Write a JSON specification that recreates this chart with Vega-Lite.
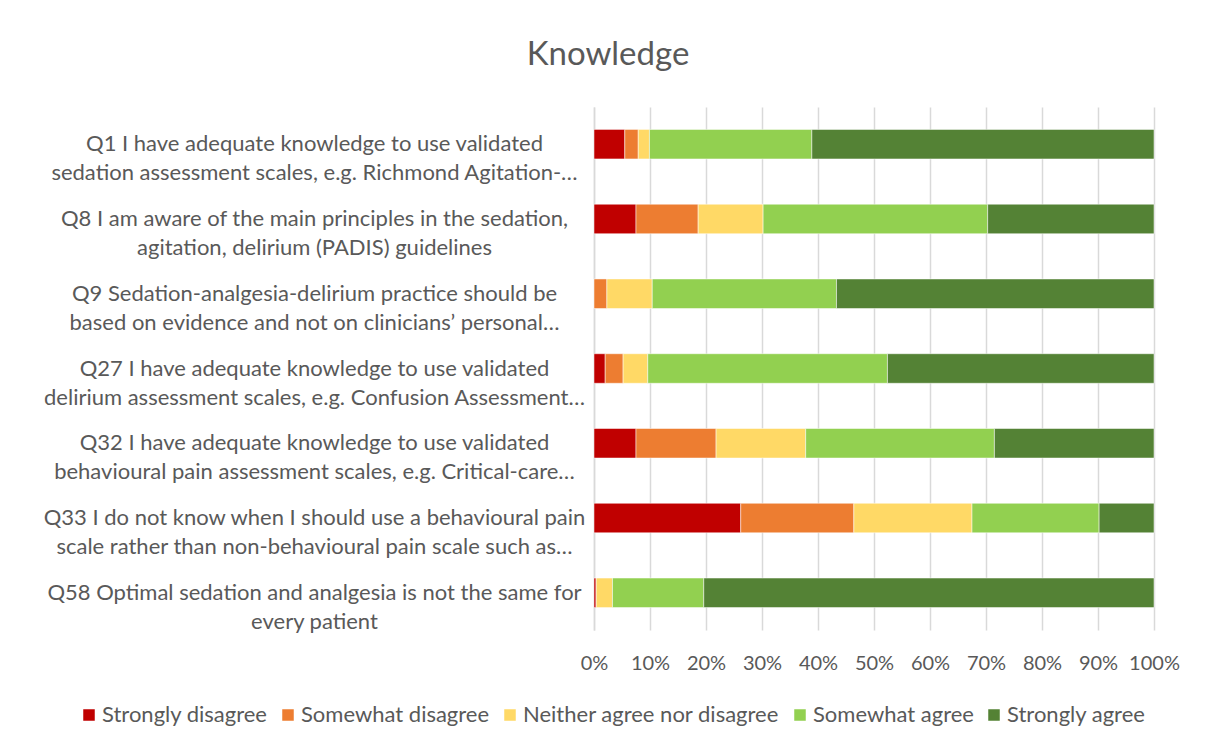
{
  "$schema": "https://vega.github.io/schema/vega-lite/v6.json",
  "width": 560,
  "height": 523,
  "autosize": "none",
  "padding": {"left": 594, "top": 107, "right": 51, "bottom": 117},
  "background": "white",
  "title": {
    "text": "Knowledge",
    "font": "Lato",
    "fontSize": 33,
    "fontWeight": "normal",
    "color": "#595959",
    "anchor": "middle",
    "dx": -266,
    "offset": 9,
    "baseline": "alphabetic"
  },
  "data": {
    "values": [
      {"q": "Q1 I have adequate knowledge to use validated|sedation assessment scales, e.g. Richmond Agitation-…", "resp": "Strongly disagree", "rank": 1, "pct": 5.5},
      {"q": "Q1 I have adequate knowledge to use validated|sedation assessment scales, e.g. Richmond Agitation-…", "resp": "Somewhat disagree", "rank": 2, "pct": 2.4},
      {"q": "Q1 I have adequate knowledge to use validated|sedation assessment scales, e.g. Richmond Agitation-…", "resp": "Neither agree nor disagree", "rank": 3, "pct": 2.0},
      {"q": "Q1 I have adequate knowledge to use validated|sedation assessment scales, e.g. Richmond Agitation-…", "resp": "Somewhat agree", "rank": 4, "pct": 29.0},
      {"q": "Q1 I have adequate knowledge to use validated|sedation assessment scales, e.g. Richmond Agitation-…", "resp": "Strongly agree", "rank": 5, "pct": 61.1},
      {"q": "Q8 I am aware of the main principles in the sedation,|agitation, delirium (PADIS) guidelines", "resp": "Strongly disagree", "rank": 1, "pct": 7.5},
      {"q": "Q8 I am aware of the main principles in the sedation,|agitation, delirium (PADIS) guidelines", "resp": "Somewhat disagree", "rank": 2, "pct": 11.1},
      {"q": "Q8 I am aware of the main principles in the sedation,|agitation, delirium (PADIS) guidelines", "resp": "Neither agree nor disagree", "rank": 3, "pct": 11.6},
      {"q": "Q8 I am aware of the main principles in the sedation,|agitation, delirium (PADIS) guidelines", "resp": "Somewhat agree", "rank": 4, "pct": 40.1},
      {"q": "Q8 I am aware of the main principles in the sedation,|agitation, delirium (PADIS) guidelines", "resp": "Strongly agree", "rank": 5, "pct": 29.7},
      {"q": "Q9 Sedation-analgesia-delirium practice should be|based on evidence and not on clinicians’ personal…", "resp": "Strongly disagree", "rank": 1, "pct": 0},
      {"q": "Q9 Sedation-analgesia-delirium practice should be|based on evidence and not on clinicians’ personal…", "resp": "Somewhat disagree", "rank": 2, "pct": 2.3},
      {"q": "Q9 Sedation-analgesia-delirium practice should be|based on evidence and not on clinicians’ personal…", "resp": "Neither agree nor disagree", "rank": 3, "pct": 8.1},
      {"q": "Q9 Sedation-analgesia-delirium practice should be|based on evidence and not on clinicians’ personal…", "resp": "Somewhat agree", "rank": 4, "pct": 32.9},
      {"q": "Q9 Sedation-analgesia-delirium practice should be|based on evidence and not on clinicians’ personal…", "resp": "Strongly agree", "rank": 5, "pct": 56.7},
      {"q": "Q27 I have adequate knowledge to use validated|delirium assessment scales, e.g. Confusion Assessment…", "resp": "Strongly disagree", "rank": 1, "pct": 2.0},
      {"q": "Q27 I have adequate knowledge to use validated|delirium assessment scales, e.g. Confusion Assessment…", "resp": "Somewhat disagree", "rank": 2, "pct": 3.2},
      {"q": "Q27 I have adequate knowledge to use validated|delirium assessment scales, e.g. Confusion Assessment…", "resp": "Neither agree nor disagree", "rank": 3, "pct": 4.4},
      {"q": "Q27 I have adequate knowledge to use validated|delirium assessment scales, e.g. Confusion Assessment…", "resp": "Somewhat agree", "rank": 4, "pct": 42.8},
      {"q": "Q27 I have adequate knowledge to use validated|delirium assessment scales, e.g. Confusion Assessment…", "resp": "Strongly agree", "rank": 5, "pct": 47.6},
      {"q": "Q32 I have adequate knowledge to use validated|behavioural pain assessment scales, e.g. Critical-care…", "resp": "Strongly disagree", "rank": 1, "pct": 7.5},
      {"q": "Q32 I have adequate knowledge to use validated|behavioural pain assessment scales, e.g. Critical-care…", "resp": "Somewhat disagree", "rank": 2, "pct": 14.3},
      {"q": "Q32 I have adequate knowledge to use validated|behavioural pain assessment scales, e.g. Critical-care…", "resp": "Neither agree nor disagree", "rank": 3, "pct": 16.0},
      {"q": "Q32 I have adequate knowledge to use validated|behavioural pain assessment scales, e.g. Critical-care…", "resp": "Somewhat agree", "rank": 4, "pct": 33.7},
      {"q": "Q32 I have adequate knowledge to use validated|behavioural pain assessment scales, e.g. Critical-care…", "resp": "Strongly agree", "rank": 5, "pct": 28.5},
      {"q": "Q33 I do not know when I should use a behavioural pain|scale rather than non-behavioural pain scale such as…", "resp": "Strongly disagree", "rank": 1, "pct": 26.2},
      {"q": "Q33 I do not know when I should use a behavioural pain|scale rather than non-behavioural pain scale such as…", "resp": "Somewhat disagree", "rank": 2, "pct": 20.2},
      {"q": "Q33 I do not know when I should use a behavioural pain|scale rather than non-behavioural pain scale such as…", "resp": "Neither agree nor disagree", "rank": 3, "pct": 21.1},
      {"q": "Q33 I do not know when I should use a behavioural pain|scale rather than non-behavioural pain scale such as…", "resp": "Somewhat agree", "rank": 4, "pct": 22.7},
      {"q": "Q33 I do not know when I should use a behavioural pain|scale rather than non-behavioural pain scale such as…", "resp": "Strongly agree", "rank": 5, "pct": 9.8},
      {"q": "Q58 Optimal sedation and analgesia is not the same for|every patient", "resp": "Strongly disagree", "rank": 1, "pct": 0.4},
      {"q": "Q58 Optimal sedation and analgesia is not the same for|every patient", "resp": "Somewhat disagree", "rank": 2, "pct": 0},
      {"q": "Q58 Optimal sedation and analgesia is not the same for|every patient", "resp": "Neither agree nor disagree", "rank": 3, "pct": 2.9},
      {"q": "Q58 Optimal sedation and analgesia is not the same for|every patient", "resp": "Somewhat agree", "rank": 4, "pct": 16.3},
      {"q": "Q58 Optimal sedation and analgesia is not the same for|every patient", "resp": "Strongly agree", "rank": 5, "pct": 80.4}
    ]
  },
  "mark": {"type": "bar"},
  "encoding": {
    "y": {
      "field": "q",
      "type": "nominal",
      "sort": null,
      "scale": {"paddingInner": 0.605, "paddingOuter": 0.3},
      "axis": {
        "title": null,
        "labelExpr": "split(datum.label, '|')",
        "labelAlign": "center",
        "labelBaseline": "middle",
        "labelPadding": 280,
        "labelLimit": 0,
        "labelFont": "Lato",
        "labelFontSize": 22,
        "labelColor": "#595959",
        "labelLineHeight": 29,
        "ticks": false,
        "tickSize": 0,
        "domain": true,
        "domainColor": "#d9d9d9",
        "domainWidth": 1.5,
        "grid": false
      }
    },
    "x": {
      "field": "pct",
      "type": "quantitative",
      "stack": "normalize",
      "scale": {"domain": [0, 1]},
      "axis": {
        "title": null,
        "format": ".0%",
        "values": [0, 0.1, 0.2, 0.3, 0.4, 0.5, 0.6, 0.7, 0.8, 0.9, 1],
        "labelOverlap": false,
        "labelFlush": false,
        "labelFont": "Lato",
        "labelFontSize": 20,
        "labelColor": "#595959",
        "labelPadding": 33,
        "labelBaseline": "middle",
        "ticks": false,
        "tickSize": 0,
        "domain": false,
        "grid": true,
        "gridColor": "#d9d9d9",
        "gridWidth": 1.5
      }
    },
    "color": {
      "field": "resp",
      "type": "nominal",
      "scale": {
        "domain": ["Strongly disagree", "Somewhat disagree", "Neither agree nor disagree", "Somewhat agree", "Strongly agree"],
        "range": ["#C00000", "#ED7D31", "#FFD966", "#92D050", "#548235"]
      },
      "legend": {
        "title": null,
        "orient": "none",
        "direction": "horizontal",
        "columns": 5,
        "legendX": -516,
        "legendY": 597,
        "symbolType": "square",
        "symbolSize": 144,
        "symbolStrokeWidth": 0,
        "labelFont": "Lato",
        "labelFontSize": 22,
        "labelColor": "#595959",
        "labelOffset": 2,
        "columnPadding": 9,
        "labelLimit": 0
      }
    },
    "order": {"field": "rank", "type": "quantitative"}
  },
  "config": {
    "view": {"stroke": null},
    "bar": {"stroke": "white", "strokeWidth": 0.5}
  }
}
